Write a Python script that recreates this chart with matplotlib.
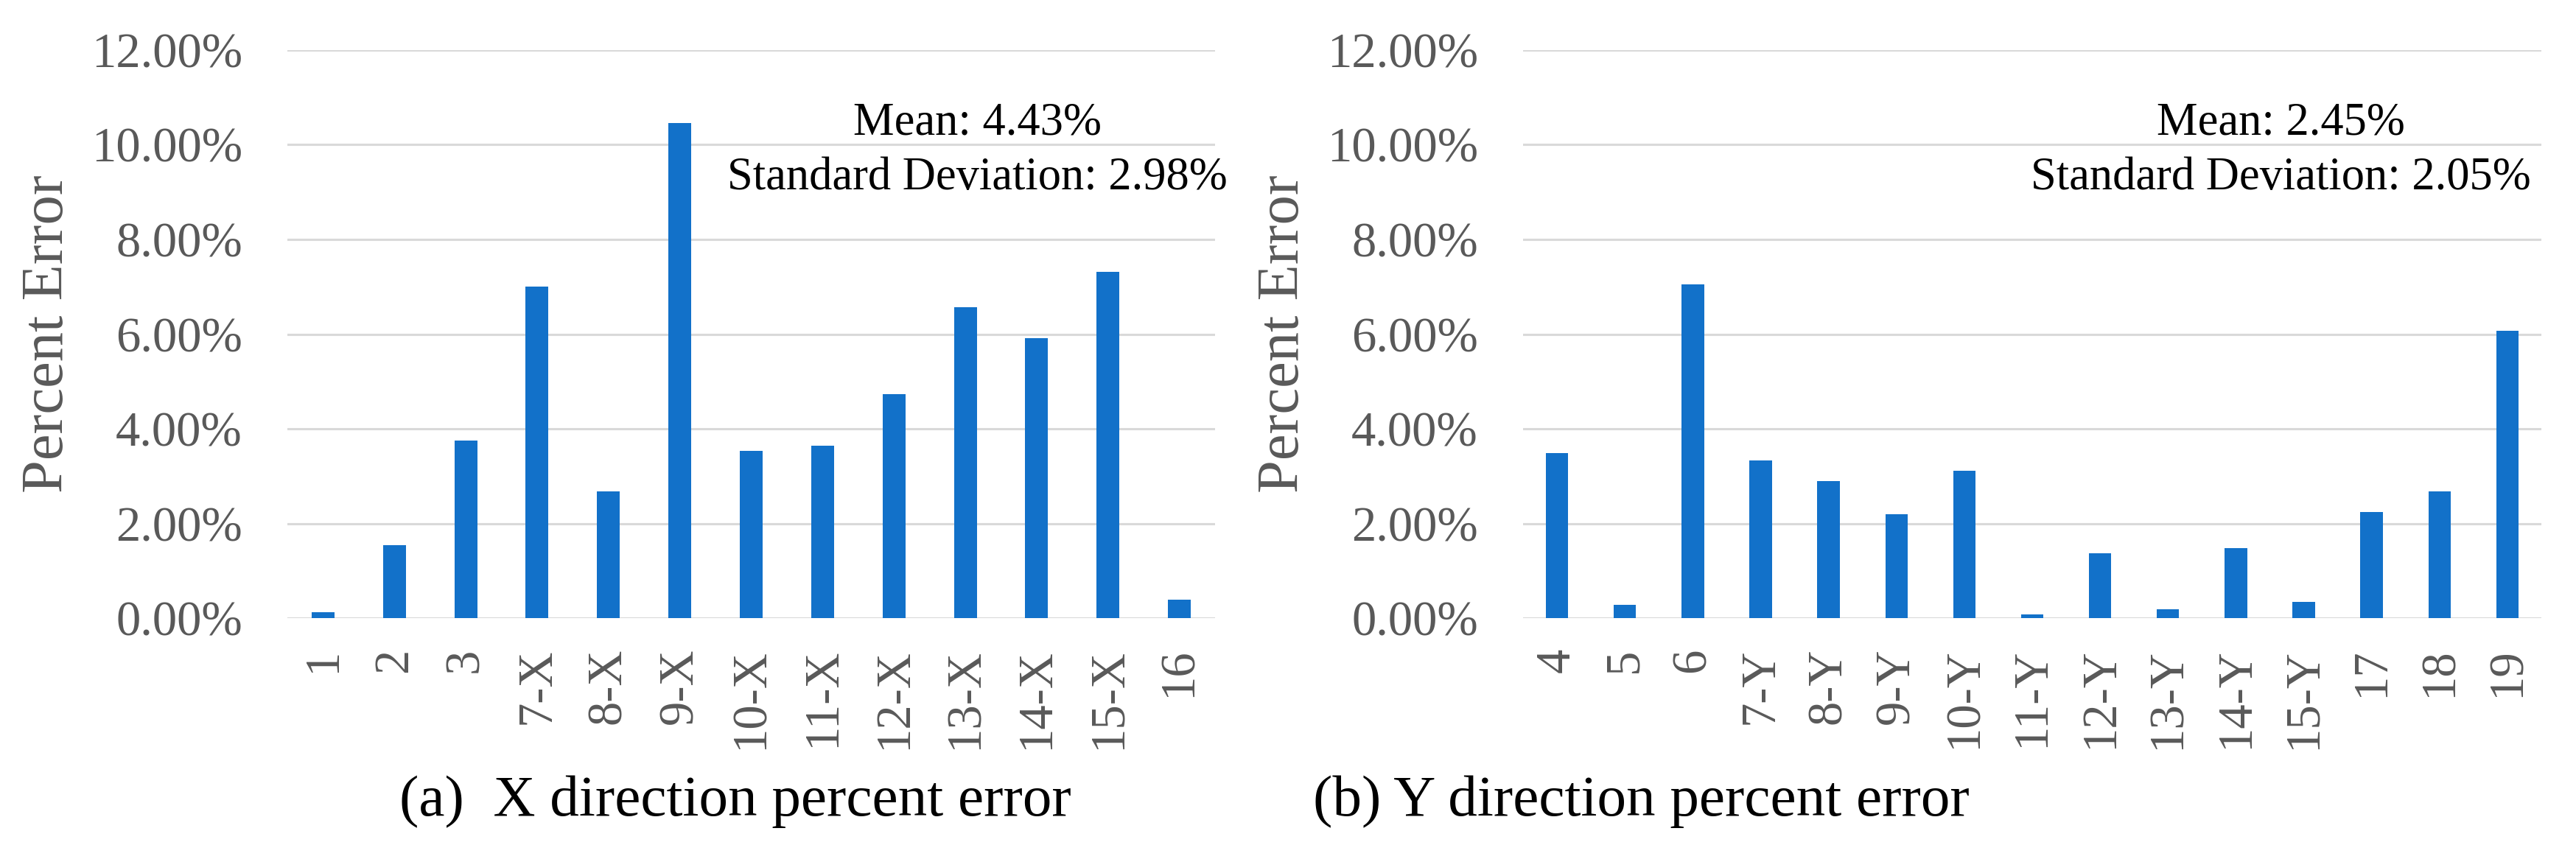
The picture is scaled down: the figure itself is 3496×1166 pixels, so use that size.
import matplotlib
matplotlib.use("Agg")
import matplotlib.pyplot as plt
from matplotlib.ticker import FuncFormatter

# ---- data (percent) ----
x_labels = ["1", "2", "3", "7-X", "8-X", "9-X", "10-X", "11-X", "12-X",
            "13-X", "14-X", "15-X", "16"]
x_values = [0.13, 1.54, 3.75, 7.00, 2.68, 10.46, 3.54, 3.65, 4.73,
            6.56, 5.91, 7.31, 0.40]

y_labels = ["4", "5", "6", "7-Y", "8-Y", "9-Y", "10-Y", "11-Y", "12-Y",
            "13-Y", "14-Y", "15-Y", "17", "18", "19"]
y_values = [3.49, 0.29, 7.05, 3.33, 2.89, 2.19, 3.11, 0.08, 1.38,
            0.19, 1.48, 0.35, 2.24, 2.68, 6.07]

x_stats = ["Mean: 4.43%", "Standard Deviation: 2.98%"]
y_stats = ["Mean: 2.45%", "Standard Deviation: 2.05%"]
captions = ["(a)  X direction percent error", "(b) Y direction percent error"]
y_ticks = [0, 2, 4, 6, 8, 10, 12]

# ---- style ----
plt.rcParams['font.family'] = ['Liberation Serif', 'DejaVu Serif']
BAR = '#1271C9'
GRAY = '#595959'
GRID = '#D9D9D9'

W, H = 3496, 1166
fig = plt.figure(figsize=(W / 100, H / 100), dpi=100)


def px_axes(x0, x1, ytop, ybot):
    return fig.add_axes([x0 / W, 1 - ybot / H, (x1 - x0) / W, (ybot - ytop) / H])


ax1 = px_axes(390, 1649, 67.7, 839.3)
ax2 = px_axes(2067, 3449, 67.7, 839.3)

panels = [
    (ax1, x_labels, x_values, x_stats, 0.32, 102),
    (ax2, y_labels, y_values, y_stats, 0.33, 1779),
]

for ax, labels, vals, stats, bw, ylab_px in panels:
    pos = list(range(len(labels)))
    ax.bar(pos, vals, width=bw, color=BAR, zorder=3)
    ax.set_xlim(-0.5, len(labels) - 0.5)
    ax.set_ylim(0, 12)
    ax.set_yticks(y_ticks)
    ax.yaxis.set_major_formatter(FuncFormatter(lambda v, p: f"{v:.2f}%"))
    ax.set_xticks(pos)
    ax.set_xticklabels(labels, rotation=90, va='top', ha='center')
    ax.tick_params(axis='both', length=0, colors=GRAY, labelsize=48)
    ax.tick_params(axis='y', pad=44)
    ax.tick_params(axis='x', pad=29)
    for s in ax.spines.values():
        s.set_visible(False)
    ax.grid(axis='y', color=GRID, linewidth=2.2, zorder=0)
    ax.set_axisbelow(True)
    ax.set_ylabel("Percent Error", fontsize=58, color=GRAY)
    ax.yaxis.set_label_coords(ylab_px / W, 1 - 453 / H, transform=fig.transFigure)
    ax.text(0.744, 10.22, stats[0], transform=ax.get_yaxis_transform(),
            ha='center', va='baseline', fontsize=45, color='black', zorder=5)
    ax.text(0.744, 9.06, stats[1], transform=ax.get_yaxis_transform(),
            ha='center', va='baseline', fontsize=45, color='black', zorder=5)

fig.text(998 / W, 1 - 1107 / H, captions[0], ha='center', va='baseline',
         fontsize=57, color='black')
fig.text(2227 / W, 1 - 1107 / H, captions[1], ha='center', va='baseline',
         fontsize=57, color='black')

fig.savefig("out.png", dpi=100, facecolor='white')
